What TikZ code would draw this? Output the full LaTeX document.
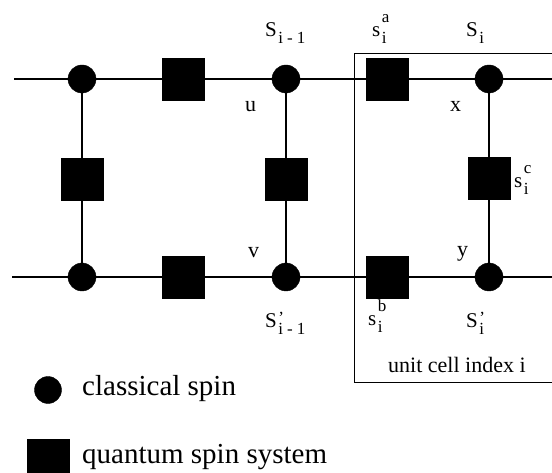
\documentclass[tikz,border=0pt]{standalone}
\usepackage{fontspec}
\setmainfont{Liberation Serif}
\newcommand\scr[1]{{\fontsize{17}{17}\selectfont #1}}
% base, superscript, subscript
\newcommand\sslab[3]{#1\kern1.5pt\rlap{\raisebox{14pt}{\scr{#2}}}\raisebox{-7pt}{\scr{#3}}}
\newcommand\imone{i\hspace{4pt}-\hspace{4pt}1}
\newcommand\pr{\raisebox{-10.5pt}{'}}
\begin{document}
\begin{tikzpicture}[x=1pt,y=-1pt,
  cspin/.style={circle,fill=black,draw=black,inner sep=0pt,minimum size=28pt},
  qspin/.style={rectangle,fill=black,draw=black,inner sep=0pt,minimum size=42pt},
  link/.style={line width=1.2pt},
  lab/.style={anchor=base west,inner sep=0pt,font=\fontsize{21}{24}\selectfont},
  leg/.style={anchor=base west,inner sep=0pt,font=\fontsize{29}{32}\selectfont}]
\useasboundingbox (0,0) rectangle (552,473);
\clip (0,0) rectangle (552,473);
% unit cell box
\draw[line width=0.9pt] (600,53) -- (354,53) -- (354,382) -- (600,382);
% nodes
\node[cspin] (c1) at (82,79) {};
\node[cspin] (c2) at (286,79) {};
\node[cspin] (c3) at (489,79) {};
\node[cspin] (d1) at (82,277) {};
\node[cspin] (d2) at (286,277) {};
\node[cspin] (d3) at (489,277) {};
\node[qspin] (q1) at (183,79) {};
\node[qspin] (qa) at (387,79) {};
\node[qspin] (p1) at (183,277) {};
\node[qspin] (qb) at (387,277) {};
\node[qspin] (v1) at (82,179) {};
\node[qspin] (v2) at (286,179) {};
\node[qspin] (qc) at (489,178) {};
\coordinate (lt) at (14,79);
\coordinate (rt) at (560,79);
\coordinate (lb) at (12,277);
\coordinate (rb) at (560,277);
% connectors
\draw[link] (lt) -- (c1) -- (q1) -- (c2) -- (qa) -- (c3) -- (rt);
\draw[link] (lb) -- (d1) -- (p1) -- (d2) -- (qb) -- (d3) -- (rb);
\draw[link] (c1) -- (v1) -- (d1);
\draw[link] (c2) -- (v2) -- (d2);
\draw[link] (c3) -- (qc) -- (d3);
% labels
\node[lab] (lS1) at (265,37) {\sslab{S}{}{\imone}};
\node[lab] (lsa) at (372,37) {\sslab{s}{a}{i}};
\node[lab] (lSi) at (466,37) {\sslab{S}{}{i}};
\node[lab,font=\fontsize{22}{24}\selectfont] (lu) at (245,112) {u};
\node[lab,font=\fontsize{22}{24}\selectfont] (lx) at (450,112) {x};
\node[lab,font=\fontsize{22}{24}\selectfont] (lv) at (248,258) {v};
\node[lab,font=\fontsize{22}{24}\selectfont] (ly) at (457,257) {y};
\node[lab] (lsc) at (514,188) {\sslab{s}{c}{i}};
\node[lab] (lP1) at (265,327) {\sslab{S}{\pr}{\imone}};
\node[lab] (lsb) at (368,326) {\sslab{s}{b}{i}};
\node[lab] (lPi) at (466,327) {\sslab{S}{\pr}{i}};
\node[lab,font=\fontsize{22}{24}\selectfont] (lcell) at (388,372) {unit cell index i};
% legend
\node[cspin,minimum size=27pt] (kc) at (48,390) {};
\node[qspin] (kq) at (48,460) {};
\node[leg] (tc) at (82,395) {classical spin};
\node[leg] (tq) at (82,463) {quantum spin system};
\end{tikzpicture}
\end{document}
